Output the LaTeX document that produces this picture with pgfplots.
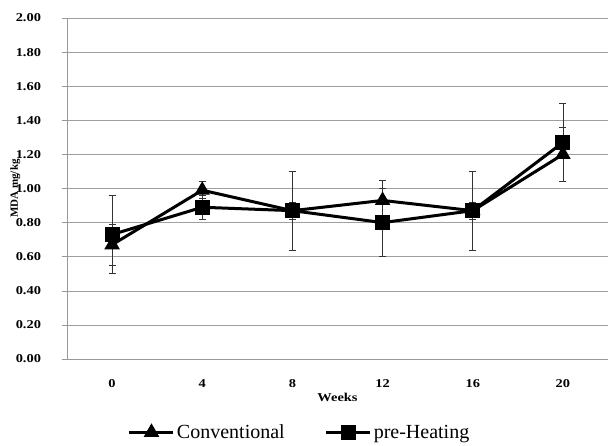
\documentclass[border=0pt]{standalone}
\usepackage{pgfplots}
\pgfplotsset{compat=1.18}
\usepackage{fontspec}
\setmainfont{Liberation Serif}
\begin{document}
\begin{tikzpicture}
\useasboundingbox (-67pt,-86pt) rectangle (543pt,359pt);
\begin{axis}[
  scale only axis,
  width=541pt, height=341pt,
  at={(0pt,0pt)}, anchor=south west,
  xmin=-0.5, xmax=5.5,
  ymin=0, ymax=2,
  xtick={0,1,2,3,4,5},
  xticklabels={0,4,8,12,16,20},
  ytick={0,0.2,0.4,0.6,0.8,1.0,1.2,1.4,1.6,1.8,2.0},
  /pgf/number format/assume math mode=true,
  yticklabel style={/pgf/number format/fixed, /pgf/number format/fixed zerofill, /pgf/number format/precision=2, anchor=east, xshift=-14pt},
  tick label style={font=\rmfamily\bfseries\fontsize{12}{14}\selectfont, xscale=1.2},
  axis x line*=bottom, axis y line*=left,
  axis line style={gray!80, line width=0.6pt, -},
  ymajorgrids,
  grid style={gray!75, line width=0.6pt},
  major tick length=5pt,
  tick align=outside,
  ytick style={gray!80, line width=0.6pt},
  xtick style={draw=none},
  xticklabel style={anchor=center, yshift=-20pt},
  xlabel={Weeks},
  xlabel style={font=\rmfamily\bfseries\fontsize{12}{14}\selectfont, xscale=1.2, at={(axis description cs:0.5,0)}, anchor=center, yshift=-38pt},
  ylabel={MDA mg/kg},
  ylabel style={font=\rmfamily\bfseries\fontsize{11}{13}\selectfont, yshift=-12pt},
  legend style={at={(axis description cs:0.43,-0.215)}, anchor=center, draw=none,
    legend columns=2, font=\rmfamily\fontsize{20}{22}\selectfont,
    /tikz/every even column/.append style={column sep=38pt}},
  legend image code/.code={
    \draw[mark repeat=2,mark phase=2] plot coordinates {(0pt,0pt)(22pt,0pt)(44pt,0pt)};},
  legend cell align=left,
]
\addplot[black, line width=3pt, mark=triangle*, mark size=6pt, mark options={solid},
  error bars/.cd, y dir=both, y explicit,
  error bar style={line width=0.7pt, black!80},
  error mark options={rotate=90, mark size=3.5pt, line width=0.7pt, black!80}]
  table[x=x, y=y, y error=e] {
x y e
0 0.67 0.12
1 0.99 0.05
2 0.87 0.05
3 0.93 0.12
4 0.87 0.05
5 1.20 0.16
};
\addlegendentry{Conventional}
\addplot[black, line width=3pt, mark=square*, mark size=6pt, mark options={solid},
  error bars/.cd, y dir=both, y explicit,
  error bar style={line width=0.7pt, black!80},
  error mark options={rotate=90, mark size=3.5pt, line width=0.7pt, black!80}]
  table[x=x, y=y, y error=e] {
x y e
0 0.73 0.23
1 0.89 0.07
2 0.87 0.23
3 0.80 0.20
4 0.87 0.23
5 1.27 0.23
};
\addlegendentry{pre-Heating}
\end{axis}
\end{tikzpicture}
\end{document}
